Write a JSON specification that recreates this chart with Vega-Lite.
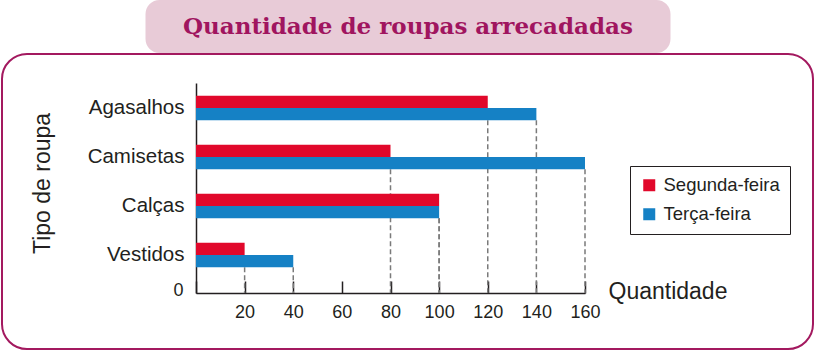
{
  "$schema": "https://vega.github.io/schema/vega-lite/v6.json",
  "padding": {"top": 0, "left": 1, "right": 1, "bottom": 1},
  "background": "white",
  "center": true,
  "spacing": 0,
  "config": {"font": "Liberation Sans", "view": {"stroke": null}},
  "datasets": {
    "roupas": [
      {"tipo": "Agasalhos", "dia": "Segunda-feira", "quantidade": 120},
      {"tipo": "Agasalhos", "dia": "Terça-feira", "quantidade": 140},
      {"tipo": "Camisetas", "dia": "Segunda-feira", "quantidade": 80},
      {"tipo": "Camisetas", "dia": "Terça-feira", "quantidade": 160},
      {"tipo": "Calças", "dia": "Segunda-feira", "quantidade": 100},
      {"tipo": "Calças", "dia": "Terça-feira", "quantidade": 100},
      {"tipo": "Vestidos", "dia": "Segunda-feira", "quantidade": 20},
      {"tipo": "Vestidos", "dia": "Terça-feira", "quantidade": 40}
    ],
    "titulo": [{"titulo": "Quantidade de roupas arrecadadas"}]
  },
  "vconcat": [
    {
      "width": 525,
      "height": 53,
      "view": {"fill": "#e8cbd7", "stroke": null, "cornerRadius": 14},
      "data": {"name": "titulo"},
      "mark": {"type": "text", "font": "DejaVu Serif", "fontWeight": "bold", "fontSize": 23, "color": "#a0155f", "baseline": "middle", "align": "center"},
      "encoding": {"text": {"field": "titulo", "type": "nominal"}}
    },
    {
      "width": 811,
      "height": 295,
      "view": {"stroke": "#a3195f", "strokeWidth": 2, "cornerRadius": 25, "fill": "white"},
      "data": {"name": "roupas"},
      "layer": [
        {
          "mark": {"type": "rule", "strokeDash": [5, 3], "color": "#7a7a7a", "strokeWidth": 1.5},
          "encoding": {
            "x": {
              "field": "quantidade", "type": "quantitative",
              "scale": {"domain": [0, 160], "range": [194, 583], "nice": false, "zero": true}
            },
            "y": {
              "field": "tipo", "type": "nominal", "bandPosition": 1,
              "scale": {"domain": ["Agasalhos", "Camisetas", "Calças", "Vestidos"], "range": [29, 239], "paddingInner": 0.5, "paddingOuter": 0.393, "align": 0.33}
            },
            "y2": {"datum": "Vestidos", "bandPosition": 2.053}
          }
        },
        {
          "mark": {"type": "bar"},
          "encoding": {
            "x": {
              "field": "quantidade", "type": "quantitative",
              "scale": {"domain": [0, 160], "range": [194, 583], "nice": false, "zero": true},
              "axis": {
                "title": "Quantidade",
                "values": [0, 20, 40, 60, 80, 100, 120, 140, 160],
                "offset": -56,
                "grid": false,
                "domainColor": "#231f20", "domainWidth": 1.5,
                "tickColor": "#231f20", "tickWidth": 1.5, "tickSize": -12,
                "labelPadding": {"condition": {"test": "datum.value === 0", "value": 9}, "value": 22},
                "labelFontSize": 18, "labelColor": "#231f20",
                "labelAlign": {"condition": {"test": "datum.value === 0", "value": "right"}, "value": "center"},
                "labelBaseline": {"condition": {"test": "datum.value === 0", "value": "middle"}, "value": "top"},
                "labelOffset": {"condition": {"test": "datum.value === 0", "value": -13}, "value": 0},
                "labelFlush": false, "labelOverlap": false, "labelBound": false,
                "titleX": 606, "titleY": 5, "titleAlign": "left", "titleBaseline": "alphabetic",
                "titleFontSize": 23, "titleFontWeight": "normal", "titleColor": "#231f20"
              }
            },
            "y": {
              "field": "tipo", "type": "nominal",
              "scale": {"domain": ["Agasalhos", "Camisetas", "Calças", "Vestidos"], "range": [29, 239], "paddingInner": 0.5, "paddingOuter": 0.393, "align": 0.33},
              "axis": {
                "title": "Tipo de roupa",
                "offset": -194,
                "ticks": false,
                "grid": false,
                "labelPadding": 12,
                "labelFontSize": 20.5, "labelColor": "#231f20",
                "domainColor": "#231f20", "domainWidth": 1.5,
                "titleX": -154, "titleY": 129, "titleAngle": -90, "titleAlign": "center", "titleBaseline": "middle",
                "titleFontSize": 23, "titleFontWeight": "normal", "titleColor": "#231f20"
              }
            },
            "yOffset": {
              "field": "dia", "type": "nominal",
              "scale": {"domain": ["Segunda-feira", "Terça-feira"], "paddingInner": 0, "paddingOuter": 0}
            },
            "color": {
              "field": "dia", "type": "nominal",
              "scale": {"domain": ["Segunda-feira", "Terça-feira"], "range": ["#e1082b", "#1581c5"]},
              "legend": {
                "orient": "none", "legendX": 628, "legendY": 166,
                "title": null,
                "strokeColor": "#231f20", "fillColor": "white", "padding": 10,
                "symbolType": "square", "symbolSize": 144, "symbolStrokeWidth": 0,
                "labelFontSize": 18.5, "labelColor": "#231f20", "labelOffset": 5,
                "rowPadding": 10
              }
            }
          }
        }
      ]
    }
  ]
}
